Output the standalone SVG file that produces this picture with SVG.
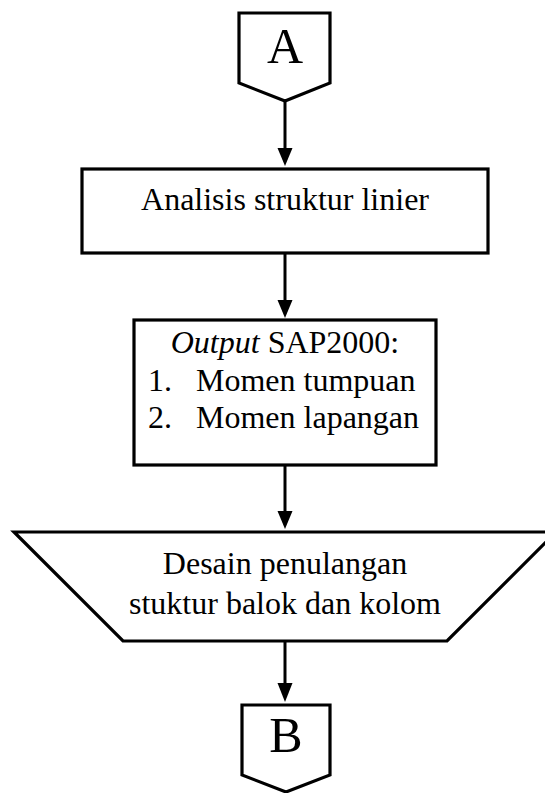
<svg xmlns="http://www.w3.org/2000/svg" width="545" height="793" viewBox="0 0 545 793">
  <style>
    .shape { fill: #fff; stroke: #000; stroke-width: 3.2; stroke-linejoin: miter; }
    .link { stroke: #000; stroke-width: 3; fill: none; }
    .head { fill: #000; stroke: none; }
    text { font-family: "Liberation Serif", "Times New Roman", serif; fill: #000; }
    .t { font-size: 32px; }
    .big { font-size: 50px; text-anchor: middle; }
    .c { text-anchor: middle; }
  </style>
  <rect width="545" height="793" fill="#fff"/>

  <!-- connectors -->
  <g id="connectors">
    <line class="link" x1="285" y1="102" x2="285" y2="150"/>
    <polygon class="head" points="277.5,148 292.5,148 285,166"/>
    <line class="link" x1="285" y1="253" x2="285" y2="302"/>
    <polygon class="head" points="277.5,300 292.5,300 285,318"/>
    <line class="link" x1="285" y1="465" x2="285" y2="513"/>
    <polygon class="head" points="277.5,511 292.5,511 285,529"/>
    <line class="link" x1="285" y1="642" x2="285" y2="685"/>
    <polygon class="head" points="277.5,683 292.5,683 285,702"/>
  </g>

  <!-- off-page connector A -->
  <g id="connector-a">
    <polygon class="shape" points="239,13 330,13 330,83 285,101 239,83"/>
    <text class="big" x="285" y="63">A</text>
  </g>

  <!-- process: linear structural analysis -->
  <g id="analisis">
    <rect class="shape" x="82" y="169" width="406" height="84"/>
    <text class="t c" x="285" y="210">Analisis struktur linier</text>
  </g>

  <!-- process: SAP2000 output -->
  <g id="output">
    <rect class="shape" x="134" y="320" width="302" height="145"/>
    <text class="t c" x="285" y="353"><tspan font-style="italic">Output</tspan> SAP2000:</text>
    <text class="t" x="148" y="391">1.</text>
    <text class="t" x="196" y="391">Momen tumpuan</text>
    <text class="t" x="148" y="428">2.</text>
    <text class="t" x="196" y="428">Momen lapangan</text>
  </g>

  <!-- manual operation: reinforcement design -->
  <g id="desain">
    <polygon class="shape" points="14,532 556,532 447,641 123,641"/>
    <text class="t c" x="285" y="574">Desain penulangan</text>
    <text class="t c" x="285" y="614">stuktur balok dan kolom</text>
  </g>

  <!-- off-page connector B -->
  <g id="connector-b">
    <polygon class="shape" points="242,705 330,705 330,775 286,792 242,775"/>
    <text class="big" x="286" y="752">B</text>
  </g>
</svg>
